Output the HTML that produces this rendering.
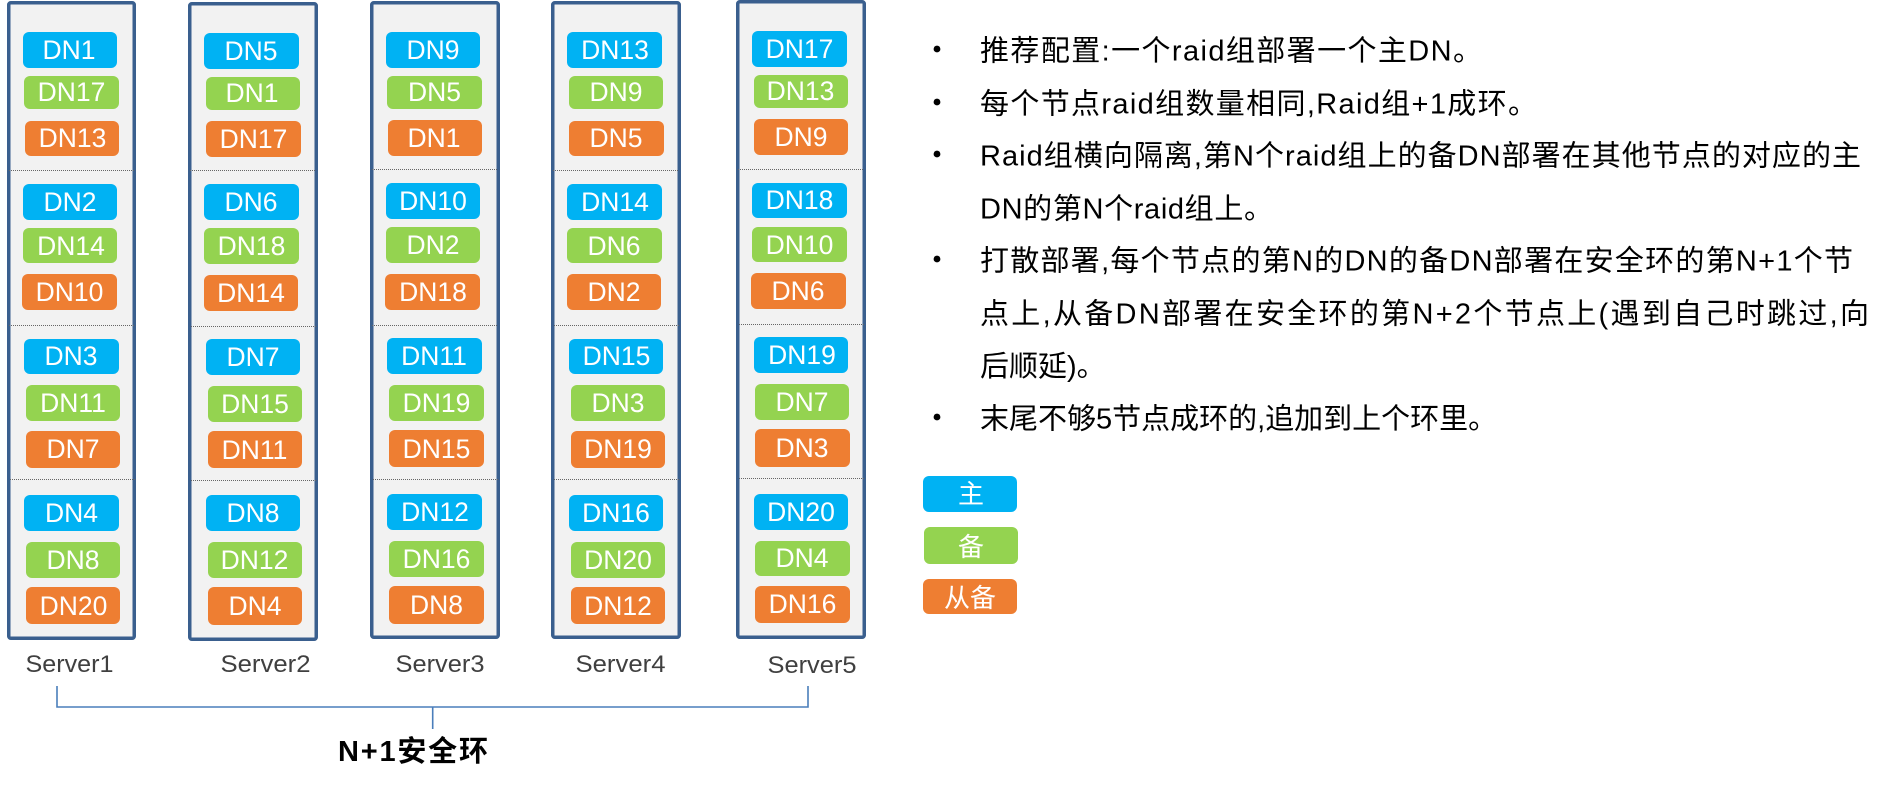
<!DOCTYPE html>
<html lang="zh-CN"><head><meta charset="utf-8"><title>N+1</title>
<style>
html,body{margin:0;padding:0;background:#fff;width:1899px;height:786px;overflow:hidden}
svg{display:block}
text{font-family:"Liberation Sans","Noto Sans CJK SC",sans-serif}
.f{fill:#f2f2f2;stroke:#3a5f8e;stroke-width:3.5}
.l{stroke:#666;stroke-width:1;stroke-dasharray:1 1}
.b{fill:#00b2f3}.g{fill:#94d350}.o{fill:#ee7e32}
.c text,text.c{fill:#fff;font-size:26.5px;text-anchor:middle}
.s{fill:#404040;font-size:24px}
.t{fill:#000;font-size:29px}
.c text.z{font-size:26px;font-family:"Noto Sans CJK SC",sans-serif}
</style></head><body>
<svg width="1899" height="786" viewBox="0 0 1899 786" xmlns="http://www.w3.org/2000/svg">
<!-- Server 1 -->
<rect class="f" x="8.75" y="2.75" width="125.5" height="635.5" rx="2"/>
<line class="l" x1="9" x2="135" y1="170.5" y2="170.5"/><line class="l" x1="9" x2="135" y1="325.5" y2="325.5"/><line class="l" x1="10" x2="136" y1="479.5" y2="479.5"/>
<g class="c">
<rect class="b" x="23" y="32" width="94" height="36" rx="6"/><text x="69" y="59">DN1</text>
<rect class="g" x="24" y="76" width="95" height="33" rx="6"/><text x="71.5" y="101">DN17</text>
<rect class="o" x="25" y="121" width="94" height="35" rx="6"/><text x="72.5" y="147">DN13</text>
<rect class="b" x="23" y="184" width="94" height="36" rx="6"/><text x="70" y="211">DN2</text>
<rect class="g" x="23" y="228" width="94" height="35" rx="6"/><text x="71" y="255">DN14</text>
<rect class="o" x="22" y="274" width="95" height="36" rx="6"/><text x="69.5" y="301">DN10</text>
<rect class="b" x="24" y="339" width="95" height="35" rx="6"/><text x="71" y="365">DN3</text>
<rect class="g" x="26" y="385" width="94" height="36" rx="6"/><text x="73" y="412">DN11</text>
<rect class="o" x="26" y="431" width="94" height="37" rx="6"/><text x="73" y="458">DN7</text>
<rect class="b" x="24" y="495" width="95" height="36" rx="6"/><text x="71.5" y="522">DN4</text>
<rect class="g" x="26" y="542" width="94" height="36" rx="6"/><text x="73" y="569">DN8</text>
<rect class="o" x="26" y="587" width="94" height="37" rx="6"/><text x="73.5" y="615">DN20</text>
</g>
<!-- Server 2 -->
<rect class="f" x="189.75" y="3.75" width="126.5" height="635.5" rx="2"/>
<line class="l" x1="190" x2="316" y1="170.5" y2="170.5"/><line class="l" x1="191" x2="317" y1="326.5" y2="326.5"/><line class="l" x1="191" x2="317" y1="480.5" y2="480.5"/>
<g class="c">
<rect class="b" x="204" y="33" width="95" height="36" rx="6"/><text x="251" y="60">DN5</text>
<rect class="g" x="206" y="77" width="94" height="33" rx="6"/><text x="252" y="102">DN1</text>
<rect class="o" x="206" y="121" width="95" height="36" rx="6"/><text x="253.5" y="148">DN17</text>
<rect class="b" x="204" y="184" width="95" height="36" rx="6"/><text x="251" y="211">DN6</text>
<rect class="g" x="204" y="228" width="95" height="36" rx="6"/><text x="251.5" y="255">DN18</text>
<rect class="o" x="204" y="275" width="94" height="36" rx="6"/><text x="251" y="302">DN14</text>
<rect class="b" x="206" y="339" width="94" height="36" rx="6"/><text x="253" y="366">DN7</text>
<rect class="g" x="208" y="386" width="94" height="36" rx="6"/><text x="255" y="413">DN15</text>
<rect class="o" x="208" y="431" width="94" height="37" rx="6"/><text x="254.5" y="459">DN11</text>
<rect class="b" x="206" y="495" width="94" height="36" rx="6"/><text x="253" y="522">DN8</text>
<rect class="g" x="208" y="542" width="94" height="36" rx="6"/><text x="254.5" y="569">DN12</text>
<rect class="o" x="208" y="587" width="94" height="38" rx="6"/><text x="255" y="615">DN4</text>
</g>
<!-- Server 3 -->
<rect class="f" x="371.75" y="2.75" width="126.5" height="634.5" rx="2"/>
<line class="l" x1="372" x2="498" y1="169.5" y2="169.5"/><line class="l" x1="372" x2="498" y1="325.5" y2="325.5"/><line class="l" x1="373" x2="499" y1="479.5" y2="479.5"/>
<g class="c">
<rect class="b" x="386" y="32" width="94" height="36" rx="6"/><text x="433" y="59">DN9</text>
<rect class="g" x="387" y="76" width="95" height="33" rx="6"/><text x="434.5" y="101">DN5</text>
<rect class="o" x="388" y="120" width="94" height="36" rx="6"/><text x="434" y="147">DN1</text>
<rect class="b" x="386" y="183" width="94" height="36" rx="6"/><text x="433" y="210">DN10</text>
<rect class="g" x="386" y="227" width="94" height="36" rx="6"/><text x="433" y="254">DN2</text>
<rect class="o" x="385" y="274" width="95" height="36" rx="6"/><text x="433" y="301">DN18</text>
<rect class="b" x="387" y="338" width="95" height="36" rx="6"/><text x="434" y="365">DN11</text>
<rect class="g" x="389" y="385" width="95" height="36" rx="6"/><text x="436.5" y="412">DN19</text>
<rect class="o" x="389" y="430" width="95" height="37" rx="6"/><text x="436.5" y="458">DN15</text>
<rect class="b" x="387" y="494" width="95" height="36" rx="6"/><text x="435" y="521">DN12</text>
<rect class="g" x="389" y="541" width="95" height="36" rx="6"/><text x="436.5" y="568">DN16</text>
<rect class="o" x="389" y="586" width="95" height="38" rx="6"/><text x="436.5" y="614">DN8</text>
</g>
<!-- Server 4 -->
<rect class="f" x="552.75" y="2.75" width="126.5" height="634.5" rx="2"/>
<line class="l" x1="553" x2="679" y1="170.5" y2="170.5"/><line class="l" x1="554" x2="680" y1="325.5" y2="325.5"/><line class="l" x1="554" x2="680" y1="479.5" y2="479.5"/>
<g class="c">
<rect class="b" x="567" y="32" width="95" height="36" rx="6"/><text x="615" y="59">DN13</text>
<rect class="g" x="569" y="76" width="94" height="33" rx="6"/><text x="616" y="101">DN9</text>
<rect class="o" x="569" y="121" width="95" height="35" rx="6"/><text x="616" y="147">DN5</text>
<rect class="b" x="567" y="184" width="95" height="36" rx="6"/><text x="615" y="211">DN14</text>
<rect class="g" x="567" y="228" width="95" height="35" rx="6"/><text x="614" y="255">DN6</text>
<rect class="o" x="567" y="274" width="94" height="36" rx="6"/><text x="614" y="301">DN2</text>
<rect class="b" x="569" y="339" width="94" height="35" rx="6"/><text x="616.5" y="365">DN15</text>
<rect class="g" x="571" y="385" width="94" height="36" rx="6"/><text x="618" y="412">DN3</text>
<rect class="o" x="571" y="431" width="94" height="37" rx="6"/><text x="618" y="458">DN19</text>
<rect class="b" x="569" y="495" width="94" height="36" rx="6"/><text x="616" y="522">DN16</text>
<rect class="g" x="571" y="542" width="94" height="36" rx="6"/><text x="618" y="569">DN20</text>
<rect class="o" x="571" y="587" width="94" height="37" rx="6"/><text x="618" y="615">DN12</text>
</g>
<!-- Server 5 -->
<rect class="f" x="737.75" y="1.75" width="126.5" height="635.5" rx="2"/>
<line class="l" x1="738" x2="864" y1="169.5" y2="169.5"/><line class="l" x1="739" x2="865" y1="324.5" y2="324.5"/><line class="l" x1="739" x2="865" y1="478.5" y2="478.5"/>
<g class="c">
<rect class="b" x="752" y="31" width="95" height="36" rx="6"/><text x="799.5" y="58">DN17</text>
<rect class="g" x="754" y="75" width="94" height="33" rx="6"/><text x="800.5" y="100">DN13</text>
<rect class="o" x="754" y="119" width="94" height="36" rx="6"/><text x="801" y="146">DN9</text>
<rect class="b" x="752" y="183" width="95" height="35" rx="6"/><text x="799.5" y="209">DN18</text>
<rect class="g" x="752" y="227" width="95" height="35" rx="6"/><text x="799.5" y="254">DN10</text>
<rect class="o" x="751" y="273" width="95" height="36" rx="6"/><text x="798" y="300">DN6</text>
<rect class="b" x="754" y="337" width="94" height="36" rx="6"/><text x="802" y="364">DN19</text>
<rect class="g" x="755" y="384" width="94" height="36" rx="6"/><text x="802" y="411">DN7</text>
<rect class="o" x="755" y="429" width="95" height="38" rx="6"/><text x="802" y="457">DN3</text>
<rect class="b" x="754" y="494" width="94" height="36" rx="6"/><text x="801" y="521">DN20</text>
<rect class="g" x="755" y="541" width="95" height="35" rx="6"/><text x="802" y="567">DN4</text>
<rect class="o" x="755" y="586" width="95" height="37" rx="6"/><text x="802.5" y="613">DN16</text>
</g>
<!-- Server labels -->
<text class="s" x="25.5" y="672" textLength="88" lengthAdjust="spacingAndGlyphs">Server1</text>
<text class="s" x="220.5" y="672" textLength="90" lengthAdjust="spacingAndGlyphs">Server2</text>
<text class="s" x="395.5" y="672" textLength="89" lengthAdjust="spacingAndGlyphs">Server3</text>
<text class="s" x="575.5" y="672" textLength="90" lengthAdjust="spacingAndGlyphs">Server4</text>
<text class="s" x="767.5" y="673" textLength="89" lengthAdjust="spacingAndGlyphs">Server5</text>
<!-- Bracket -->
<path d="M57 686V707H808V686M432.7 707V729" fill="none" stroke="#4a7ebb" stroke-width="1.6"/>
<text x="338" y="761" font-size="29" font-weight="700" fill="#000" textLength="150">N+1安全环</text>
<!-- Bullets -->
<g fill="#000">
<circle cx="937" cy="49" r="3.4"/><circle cx="937" cy="102" r="3.4"/><circle cx="937" cy="154" r="3.4"/><circle cx="937" cy="259" r="3.4"/><circle cx="937" cy="417" r="3.4"/>
</g>
<text class="t" x="980" y="60.5" textLength="502">推荐配置:一个raid组部署一个主DN。</text>
<text class="t" x="980" y="113.5" textLength="557">每个节点raid组数量相同,Raid组+1成环。</text>
<text class="t" x="980" y="165.5" textLength="881">Raid组横向隔离,第N个raid组上的备DN部署在其他节点的对应的主</text>
<text class="t" x="980" y="218.5" textLength="293">DN的第N个raid组上。</text>
<text class="t" x="980" y="270.5" textLength="873">打散部署,每个节点的第N的DN的备DN部署在安全环的第N+1个节</text>
<text class="t" x="980" y="323.5" textLength="889">点上,从备DN部署在安全环的第N+2个节点上(遇到自己时跳过,向</text>
<text class="t" x="980" y="376">后顺延)。</text>
<text class="t" x="980" y="428.5">末尾不够5节点成环的,追加到上个环里。</text>
<!-- Legend -->
<g class="c">
<rect class="b" x="923" y="476" width="94" height="36" rx="6"/><text class="z" x="971" y="503">主</text>
<rect class="g" x="924" y="527" width="94" height="37" rx="6"/><text class="z" x="971" y="556">备</text>
<rect class="o" x="923" y="579" width="94" height="35" rx="6"/><text class="z" x="970" y="607">从备</text>
</g>
</svg>
</body></html>
